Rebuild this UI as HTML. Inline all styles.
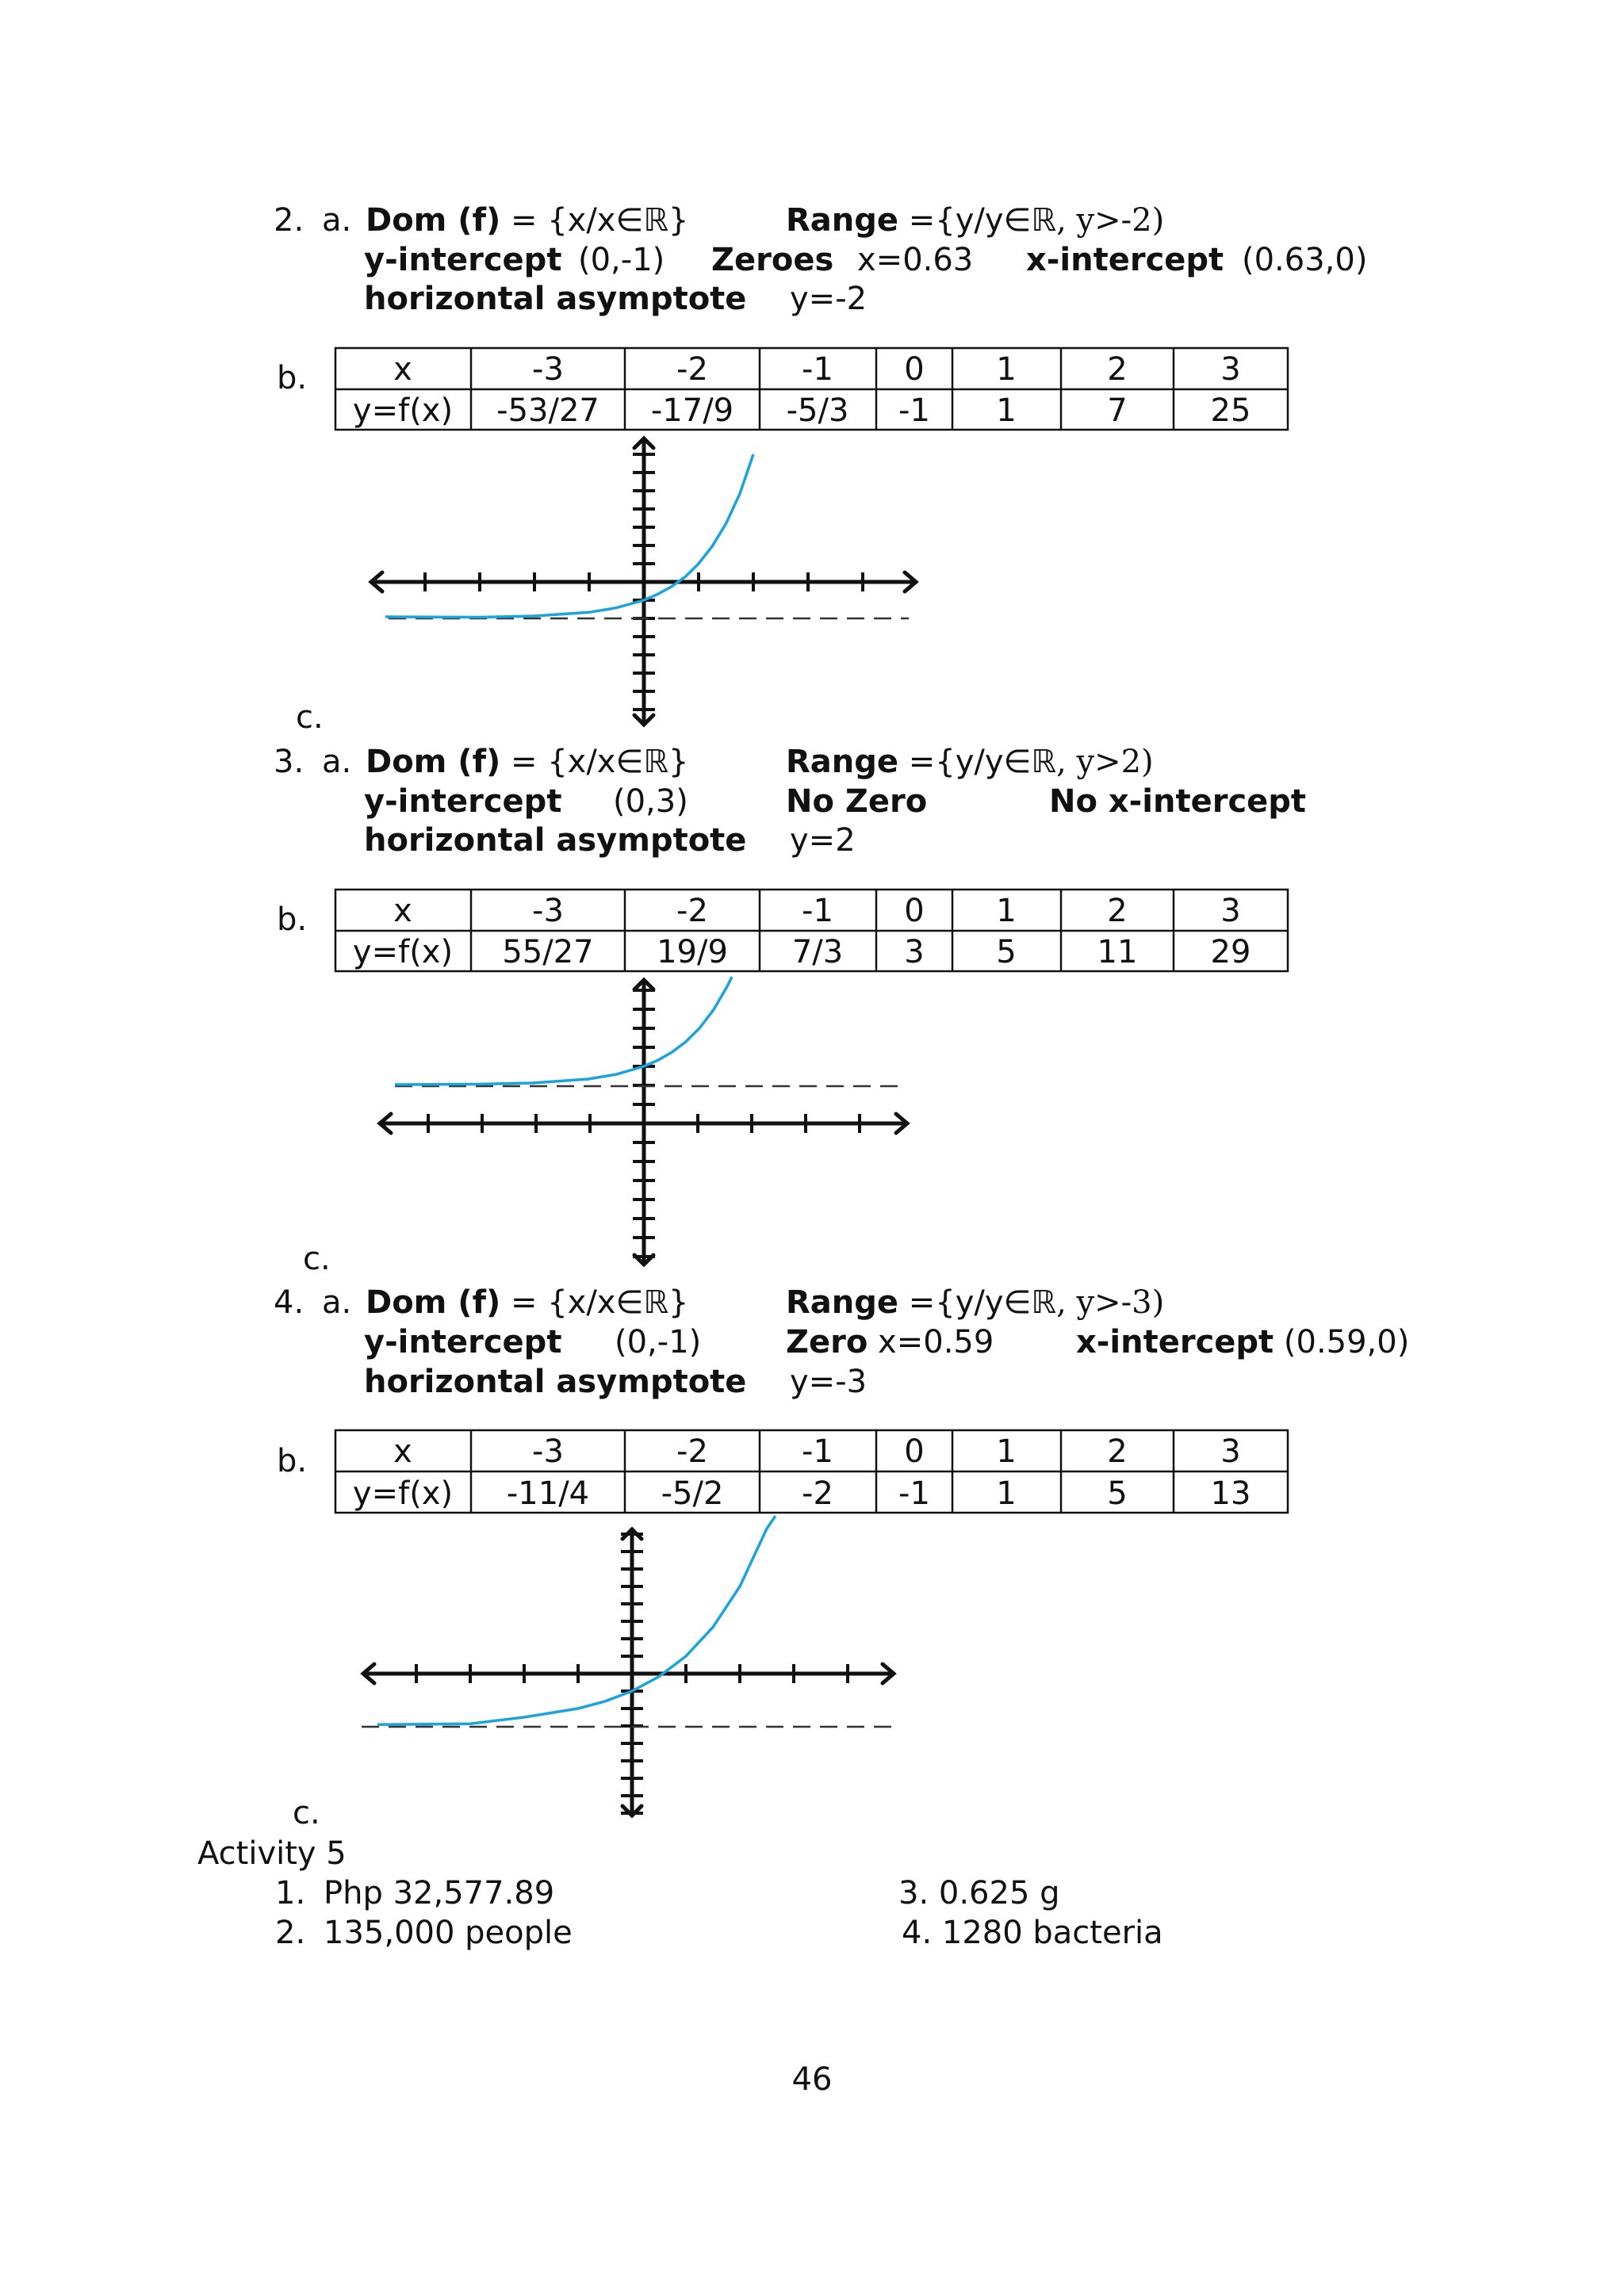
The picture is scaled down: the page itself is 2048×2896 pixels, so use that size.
<!DOCTYPE html>
<html><head><meta charset="utf-8"><style>
html,body{margin:0;padding:0;background:#fff}
svg{display:block}
text{font-family:"DejaVu Sans","Liberation Sans",sans-serif;font-size:40px;fill:#111}
.b{font-weight:bold}
.s{font-family:"DejaVu Serif","Liberation Serif",serif}
.t text{text-anchor:middle}
.ax{stroke:#111;stroke-width:5;fill:none;stroke-linecap:round}
.tk{stroke:#111;stroke-width:4;fill:none}
.ds{stroke:#333;stroke-width:2.5;stroke-dasharray:22 12;fill:none}
.cv{stroke:#1aa3dc;stroke-width:3.5;fill:none}
.tb{stroke:#111;stroke-width:2.5;fill:none}
</style></head><body>
<svg width="2048" height="2896" viewBox="0 0 2048 2896" xmlns="http://www.w3.org/2000/svg">
<!-- Section 2 -->
<text x="345" y="291">2.</text><text x="406" y="291">a.</text>
<text x="461" y="291"><tspan class="b">Dom (f)</tspan> = {x/x∈ℝ}</text>
<text x="991" y="291"><tspan class="b">Range</tspan> ={y/y∈ℝ<tspan class="s">, y&gt;-2)</tspan></text>
<text x="459" y="341" class="b">y-intercept</text><text x="729" y="341">(0,-1)</text>
<text x="897" y="341" class="b">Zeroes</text><text x="1081" y="341">x=0.63</text>
<text x="1294" y="341" class="b">x-intercept</text><text x="1566" y="341">(0.63,0)</text>
<text x="459" y="390" class="b">horizontal asymptote</text><text x="996" y="390">y=-2</text>
<text x="349" y="490">b.</text>
<g class="t">
<rect class="tb" x="423" y="439" width="1201" height="103"/>
<path class="tb" d="M423 491H1624M594 439V542M788 439V542M958 439V542M1105 439V542M1201 439V542M1338 439V542M1480 439V542"/>
<text x="508" y="479">x</text><text x="691" y="479">-3</text><text x="873" y="479">-2</text><text x="1031" y="479">-1</text><text x="1153" y="479">0</text><text x="1269" y="479">1</text><text x="1409" y="479">2</text><text x="1552" y="479">3</text>
<text x="508" y="531">y=f(x)</text><text x="691" y="531">-53/27</text><text x="873" y="531">-17/9</text><text x="1031" y="531">-5/3</text><text x="1153" y="531">-1</text><text x="1269" y="531">1</text><text x="1409" y="531">7</text><text x="1552" y="531">25</text>
</g>
<path class="ax" d="M812 553V914M800 565L812 553L824 565M800 902L812 914L824 902M468 734H1155M482 722L468 734L482 746M1141 722L1155 734L1141 746"/>
<path class="tk" d="M536 722V746M605 722V746M674 722V746M743 722V746M881 722V746M950 722V746M1019 722V746M1088 722V746M798 573H826M798 596H826M798 619H826M798 642H826M798 665H826M798 688H826M798 711H826M798 757H826M798 780H826M798 803H826M798 826H826M798 849H826M798 872H826M798 895H826"/>
<path class="ds" d="M490 780H1146"/>
<polyline class="cv" points="486,778 605,778.5 674,777 743,772.3 777,766.7 812,757 829,749.7 846.5,740.2 864,727.6 881,711 898,689.2 915.5,660.5 933,622.7 950,573"/>
<text x="373" y="918">c.</text>

<!-- Section 3 -->
<text x="345" y="974">3.</text><text x="406" y="974">a.</text>
<text x="461" y="974"><tspan class="b">Dom (f)</tspan> = {x/x∈ℝ}</text>
<text x="991" y="974"><tspan class="b">Range</tspan> ={y/y∈ℝ<tspan class="s">, y&gt;2)</tspan></text>
<text x="459" y="1024" class="b">y-intercept</text><text x="773" y="1024">(0,3)</text>
<text x="991" y="1024" class="b">No Zero</text><text x="1323" y="1024" class="b">No x-intercept</text>
<text x="459" y="1073" class="b">horizontal asymptote</text><text x="996" y="1073">y=2</text>
<text x="349" y="1173">b.</text>
<g class="t">
<rect class="tb" x="423" y="1122" width="1201" height="103"/>
<path class="tb" d="M423 1174H1624M594 1122V1225M788 1122V1225M958 1122V1225M1105 1122V1225M1201 1122V1225M1338 1122V1225M1480 1122V1225"/>
<text x="508" y="1162">x</text><text x="691" y="1162">-3</text><text x="873" y="1162">-2</text><text x="1031" y="1162">-1</text><text x="1153" y="1162">0</text><text x="1269" y="1162">1</text><text x="1409" y="1162">2</text><text x="1552" y="1162">3</text>
<text x="508" y="1214">y=f(x)</text><text x="691" y="1214">55/27</text><text x="873" y="1214">19/9</text><text x="1031" y="1214">7/3</text><text x="1153" y="1214">3</text><text x="1269" y="1214">5</text><text x="1409" y="1214">11</text><text x="1552" y="1214">29</text>
</g>
<path class="ax" d="M812 1236V1595M800 1248L812 1236L824 1248M800 1583L812 1595L824 1583M479 1417H1144M493 1405L479 1417L493 1429M1130 1405L1144 1417L1130 1429"/>
<path class="tk" d="M540 1405V1429M608 1405V1429M676 1405V1429M744 1405V1429M880 1405V1429M948 1405V1429M1016 1405V1429M1084 1405V1429M798 1249H826M798 1273H826M798 1297H826M798 1321H826M798 1345H826M798 1369H826M798 1393H826M798 1441H826M798 1465H826M798 1489H826M798 1513H826M798 1537H826M798 1561H826M798 1585H826"/>
<path class="ds" d="M498 1370H1138"/>
<polyline class="cv" points="498,1368 602,1367.5 672,1366 742,1361 777,1355.2 812,1345 829.5,1337.4 847,1327.4 864.5,1314.3 882,1297 899.5,1274.2 917,1244.3 923,1232"/>
<text x="382" y="1601">c.</text>

<!-- Section 4 -->
<text x="345" y="1656">4.</text><text x="406" y="1656">a.</text>
<text x="461" y="1656"><tspan class="b">Dom (f)</tspan> = {x/x∈ℝ}</text>
<text x="991" y="1656"><tspan class="b">Range</tspan> ={y/y∈ℝ<tspan class="s">, y&gt;-3)</tspan></text>
<text x="459" y="1706" class="b">y-intercept</text><text x="775" y="1706">(0,-1)</text>
<text x="991" y="1706"><tspan class="b">Zero</tspan> x=0.59</text>
<text x="1357" y="1706"><tspan class="b">x-intercept</tspan> (0.59,0)</text>
<text x="459" y="1756" class="b">horizontal asymptote</text><text x="996" y="1756">y=-3</text>
<text x="349" y="1856">b.</text>
<g class="t">
<rect class="tb" x="423" y="1804" width="1201" height="104"/>
<path class="tb" d="M423 1856H1624M594 1804V1908M788 1804V1908M958 1804V1908M1105 1804V1908M1201 1804V1908M1338 1804V1908M1480 1804V1908"/>
<text x="508" y="1844">x</text><text x="691" y="1844">-3</text><text x="873" y="1844">-2</text><text x="1031" y="1844">-1</text><text x="1153" y="1844">0</text><text x="1269" y="1844">1</text><text x="1409" y="1844">2</text><text x="1552" y="1844">3</text>
<text x="508" y="1897">y=f(x)</text><text x="691" y="1897">-11/4</text><text x="873" y="1897">-5/2</text><text x="1031" y="1897">-2</text><text x="1153" y="1897">-1</text><text x="1269" y="1897">1</text><text x="1409" y="1897">5</text><text x="1552" y="1897">13</text>
</g>
<path class="ax" d="M797 1929V2290M785 1941L797 1929L809 1941M785 2278L797 2290L809 2278M458 2111H1127M472 2099L458 2111L472 2123M1113 2099L1127 2111L1113 2123"/>
<path class="tk" d="M525 2099V2123M593 2099V2123M661 2099V2123M729 2099V2123M865 2099V2123M933 2099V2123M1001 2099V2123M1069 2099V2123M783 1935H811M783 1957H811M783 1979H811M783 2001H811M783 2023H811M783 2045H811M783 2067H811M783 2089H811M783 2133H811M783 2155H811M783 2177H811M783 2199H811M783 2221H811M783 2243H811M783 2265H811M783 2287H811"/>
<path class="ds" d="M456 2178H1130"/>
<polyline class="cv" points="476,2175.3 593,2174.2 661,2166 729,2155 763,2145.9 797,2133 831,2114.8 865,2089 899,2052.5 933,2001 967,1928 978,1912"/>
<text x="369" y="2300">c.</text>

<!-- Activity 5 -->
<text x="249" y="2351">Activity 5</text>
<text x="347" y="2401">1.</text><text x="408" y="2401">Php 32,577.89</text>
<text x="347" y="2451">2.</text><text x="408" y="2451">135,000 people</text>
<text x="1133" y="2401">3. 0.625 g</text>
<text x="1137" y="2451">4. 1280 bacteria</text>
<text x="1024" y="2636" style="text-anchor:middle">46</text>
</svg>
</body></html>
